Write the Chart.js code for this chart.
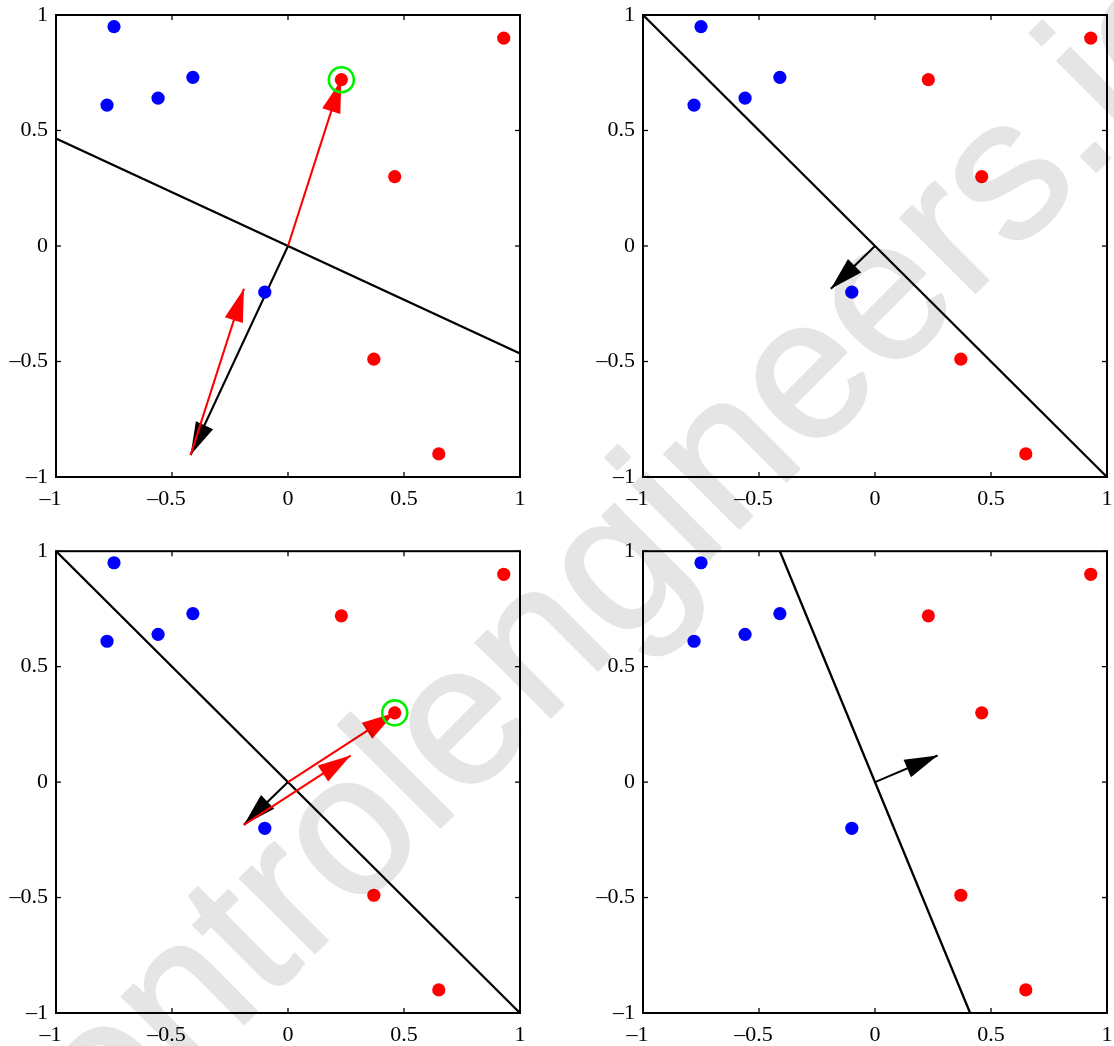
<!DOCTYPE html>
<html><head><meta charset="utf-8">
<script src="https://cdn.jsdelivr.net/npm/chart.js@4.4.1/dist/chart.umd.min.js"></script>
<style>
html,body{margin:0;padding:0;background:#fff;width:1114px;height:1046px;overflow:hidden;position:relative}
canvas{position:absolute}
#wm{position:absolute;left:0;top:0;mix-blend-mode:multiply;pointer-events:none}
</style></head><body>
<canvas id="c0" width="557" height="540" style="left:0;top:-10px"></canvas>
<canvas id="c1" width="580" height="540" style="left:557px;top:-10px"></canvas>
<canvas id="c2" width="557" height="516" style="left:0;top:530px"></canvas>
<canvas id="c3" width="580" height="516" style="left:557px;top:530px"></canvas>
<svg id="wm" width="1114" height="1046" xmlns="http://www.w3.org/2000/svg">
<text x="38" y="1230" transform="rotate(-45 38 1230)" font-family="Liberation Sans, Arial, sans-serif" font-size="200" fill="#e5e5e5" stroke="#e5e5e5" stroke-width="2.5" stroke-linejoin="round">controlengineers.ie</text>
</svg>
<script>
// ---- data ----
const tickValues = [-1, -0.5, 0, 0.5, 1];
const tickLabels = ['–1', '–0.5', '0', '0.5', '1'];
const blueX = [-0.78, -0.75, -0.56, -0.41, -0.10];
const blueY = [0.61, 0.95, 0.64, 0.73, -0.20];
const redX = [0.23, 0.93, 0.46, 0.37, 0.65];
const redY = [0.72, 0.90, 0.30, -0.49, -0.90];
// decision boundaries [x1, y1, x2, y2]
const boundaryTL = [-1, 0.465, 1, -0.465];
const boundaryTR = [-1, 1, 1, -1];
const boundaryBL = [-1, 1, 1, -1];
const boundaryBR = [-0.41, 1, 0.41, -1];
// vectors [x0, y0, x1, y1]
const weightTL = [0, 0, -0.42, -0.905];
const sampleTL = [0, 0, 0.23, 0.72];
const updateTL = [-0.42, -0.905, -0.19, -0.185];
const weightTR = [0, 0, -0.19, -0.185];
const weightBL = [0, 0, -0.19, -0.185];
const sampleBL = [0, 0, 0.46, 0.30];
const updateBL = [-0.19, -0.185, 0.27, 0.115];
const weightBR = [0, 0, 0.27, 0.115];
const circledTL = [0.23, 0.72];
const circledBL = [0.46, 0.30];

const panels = [
  {id:'c0', boundary:boundaryTL, arrows:[[weightTL,'#000000'],[sampleTL,'#ff0000'],[updateTL,'#ff0000']], circle:circledTL, yw:56, r:37, t:25, xh:53},
  {id:'c1', boundary:boundaryTR, arrows:[[weightTR,'#000000']], circle:null, yw:86, r:30, t:25, xh:53},
  {id:'c2', boundary:boundaryBL, arrows:[[weightBL,'#000000'],[sampleBL,'#ff0000'],[updateBL,'#ff0000']], circle:circledBL, yw:56, r:37, t:21, xh:33},
  {id:'c3', boundary:boundaryBR, arrows:[[weightBR,'#000000']], circle:null, yw:86, r:30, t:21, xh:33}
];

const arrowPlugin = {
  id:'arrowheads',
  afterDatasetDraw(chart, args){
    const ds = chart.data.datasets[args.index];
    if(!ds.arrow) return;
    const pts = args.meta.data;
    const p0 = pts[0], p1 = pts[1];
    const dx = p1.x-p0.x, dy = p1.y-p0.y, len = Math.hypot(dx,dy);
    const ux = dx/len, uy = dy/len, L = 33, W = 9.5;
    const bx = p1.x-ux*L, by = p1.y-uy*L;
    const ctx = chart.ctx;
    ctx.save();
    ctx.beginPath();
    ctx.moveTo(p1.x, p1.y);
    ctx.lineTo(bx - uy*W, by + ux*W);
    ctx.lineTo(bx + uy*W, by - ux*W);
    ctx.closePath();
    ctx.fillStyle = ds.borderColor;
    ctx.fill();
    ctx.restore();
  }
};
const boxPlugin = {
  id:'box',
  afterDraw(chart){
    const ctx = chart.ctx, a = chart.chartArea, sx = chart.scales.x, sy = chart.scales.y;
    ctx.save();
    ctx.strokeStyle = '#000';
    ctx.lineWidth = 1.3;
    const ln = (x1,y1,x2,y2)=>{ctx.beginPath();ctx.moveTo(x1,y1);ctx.lineTo(x2,y2);ctx.stroke();};
    tickValues.forEach(v=>{
      const px = sx.getPixelForValue(v), py = sy.getPixelForValue(v);
      ln(px, a.bottom, px, a.bottom-5); ln(px, a.top, px, a.top+5);
      ln(a.left, py, a.left+5, py); ln(a.right, py, a.right-5, py);
    });
    ctx.lineWidth = 2;
    ctx.strokeRect(a.left, a.top, a.right-a.left, a.bottom-a.top);
    ctx.restore();
  }
};

const seg = a => [{x:a[0], y:a[1]}, {x:a[2], y:a[3]}];
const font = {family:"'Liberation Serif', 'Times New Roman', serif", size:22};

panels.forEach(p=>{
  const datasets = [];
  datasets.push({data:seg(p.boundary), showLine:true, borderColor:'#000', borderWidth:2.3, pointRadius:0, order:20});
  p.arrows.forEach((a,i)=>{
    datasets.push({data:seg(a[0]), showLine:true, borderColor:a[1], borderWidth:2.1, pointRadius:0, order:15-i, arrow:true});
  });
  datasets.push({data:blueX.map((x,i)=>({x, y:blueY[i]})), pointRadius:6.6, pointBackgroundColor:'#0000ff', pointBorderWidth:0, order:3});
  datasets.push({data:redX.map((x,i)=>({x, y:redY[i]})), pointRadius:6.6, pointBackgroundColor:'#ff0000', pointBorderWidth:0, order:2});
  if(p.circle){
    datasets.push({data:[{x:p.circle[0], y:p.circle[1]}], pointRadius:12.5, pointBorderWidth:2.6, pointBorderColor:'#00f000', pointBackgroundColor:'rgba(0,0,0,0)', order:1});
  }
  new Chart(document.getElementById(p.id), {
    type:'scatter',
    data:{datasets},
    plugins:[arrowPlugin, boxPlugin],
    options:{
      responsive:false, animation:false, events:[],
      layout:{padding:{left:0, right:p.r, top:p.t, bottom:0}},
      plugins:{legend:{display:false}, tooltip:{enabled:false}},
      scales:{
        x:{type:'linear', min:-1, max:1,
          afterBuildTicks:s=>{s.ticks = tickValues.map(v=>({value:v}));},
          afterFit:s=>{s.height = p.xh;},
          grid:{display:false, drawTicks:false}, border:{display:false},
          ticks:{padding:9, font, color:'#000', maxRotation:0, autoSkip:false,
            callback:v=>{const i = tickValues.indexOf(v); return tickLabels[i] + (v<0 ? '\u2002' : '');}}},
        y:{type:'linear', min:-1, max:1,
          afterBuildTicks:s=>{s.ticks = tickValues.map(v=>({value:v}));},
          afterFit:s=>{s.width = p.yw;},
          grid:{display:false, drawTicks:false}, border:{display:false},
          ticks:{padding:8, font, color:'#000', autoSkip:false,
            callback:v=>tickLabels[tickValues.indexOf(v)]}}
      }
    }
  });
});
</script>
</body></html>
